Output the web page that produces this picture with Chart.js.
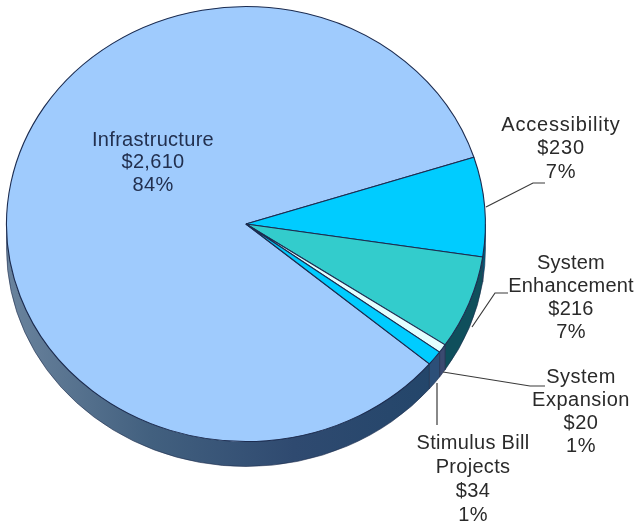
<!DOCTYPE html>
<html>
<head>
<meta charset="utf-8">
<style>
  html, body { margin: 0; padding: 0; background: #fff; }
  canvas { display: block; }
</style>
<script src="https://cdn.jsdelivr.net/npm/chart.js@4"></script>
</head>
<body>
<canvas id="myChart" width="635" height="525"></canvas>
<script>
const categories = ['Infrastructure', 'Accessibility', 'System Enhancement', 'System Expansion', 'Stimulus Bill Projects'];
const amounts = [2610, 230, 216, 20, 34];
const amountLabels = ['$2,610', '$230', '$216', '$20', '$34'];
const percentLabels = ['84%', '7%', '7%', '1%', '1%'];
const sliceColours = ['#9fcbfd', '#00ccff', '#33cccc', '#e4ffff', '#00ccff'];
const wallColours = ['#2f4a70', '#00607f', '#0f4f5c', '#3b4a70', '#2c4f78'];

// the original pie is squashed and tilted, radius in x is 240 and in y 218
const squashX = 240 / 218;
const depth = 25;

// where each label sits: centre x, y of the first line, line breaks in the name
const labelLayout = [
    { x: 153, y: 140, gap: 22.5, name: ['Infrastructure'], colour: '#22304f', spacing: '0.3px' },
    { x: 561, y: 125, gap: 23.5, name: ['Accessibility'], colour: '#2a2a2a', spacing: '0.8px' },
    { x: 571, y: 263, gap: 23, name: ['System', 'Enhancement'], colour: '#2a2a2a', spacing: '0.2px' },
    { x: 581, y: 377, gap: 23, name: ['System', 'Expansion'], colour: '#2a2a2a', spacing: '0.5px' },
    { x: 473, y: 443, gap: 24, name: ['Stimulus Bill', 'Projects'], colour: '#2a2a2a', spacing: '0.3px' }
];

const leaderLines = [
    [[486, 207], [533, 183], [545, 183]],
    [[472, 327], [495, 293], [508, 293]],
    [[443, 372], [530, 386], [545, 386]],
    [[437, 383], [437, 425]]
];

const pie3d = {
    id: 'pie3d',
    beforeDatasetsDraw(chart) {
        const ctx = chart.ctx;
        const arcs = chart.getDatasetMeta(0).data;
        const cx = arcs[0].x, cy = arcs[0].y;
        const ry = arcs[0].outerRadius, rx = ry * squashX;

        // big slice wall goes greyer towards the left edge
        const shade = ctx.createLinearGradient(cx - rx, 0, cx + rx, 0);
        shade.addColorStop(0, '#6a839d');
        shade.addColorStop(0.3, '#42607f');
        shade.addColorStop(0.6, wallColours[0]);
        shade.addColorStop(1, '#1f4468');

        // side wall, only the part facing the viewer
        arcs.forEach((arc, i) => {
            [0, -Math.PI * 2].forEach((shift) => {
                const a0 = Math.max(arc.startAngle + shift, 0);
                const a1 = Math.min(arc.endAngle + shift, Math.PI);
                if (a1 <= a0) return;
                ctx.beginPath();
                ctx.ellipse(cx, cy, rx, ry, 0, a0, a1);
                ctx.ellipse(cx, cy + depth, rx, ry, 0, a1, a0, true);
                ctx.closePath();
                ctx.fillStyle = i === 0 ? shade : wallColours[i];
                ctx.fill();
                ctx.lineWidth = 0.6;
                ctx.strokeStyle = '#1c2c4c';
                ctx.stroke();
            });
        });

        ctx.save();
        ctx.translate(cx, cy);
        ctx.scale(squashX, 1);
        ctx.translate(-cx, -cy);
    },
    afterDatasetsDraw(chart) {
        chart.ctx.restore();
    },
    afterDraw(chart) {
        const ctx = chart.ctx;
        ctx.save();
        ctx.strokeStyle = '#3a3a3a';
        ctx.lineWidth = 1.2;
        leaderLines.forEach((line) => {
            ctx.beginPath();
            line.forEach((p, i) => i ? ctx.lineTo(p[0], p[1]) : ctx.moveTo(p[0], p[1]));
            ctx.stroke();
        });

        ctx.font = '20px "Liberation Sans", Arial, sans-serif';
        ctx.textAlign = 'center';
        ctx.textBaseline = 'middle';
        labelLayout.forEach((label, i) => {
            ctx.fillStyle = label.colour;
            ctx.letterSpacing = label.spacing;
            const lines = label.name.concat([amountLabels[i], percentLabels[i]]);
            lines.forEach((text, n) => ctx.fillText(text, label.x, label.y + n * label.gap));
        });
        ctx.restore();
    }
};

var ctx = document.getElementById('myChart').getContext('2d');
var chart = new Chart(ctx, {
    type: 'pie',
    data: {
        labels: categories,
        datasets: [{
            data: amounts,
            backgroundColor: sliceColours,
            borderColor: '#1c2c50',
            borderWidth: 1,
            clip: false
        }]
    },
    options: {
        responsive: false,
        animation: false,
        rotation: 130,
        layout: { padding: { left: 6, right: 149, top: 6, bottom: 83 } },
        plugins: {
            legend: { display: false },
            tooltip: { enabled: false }
        }
    },
    plugins: [pie3d]
});
</script>
</body>
</html>
